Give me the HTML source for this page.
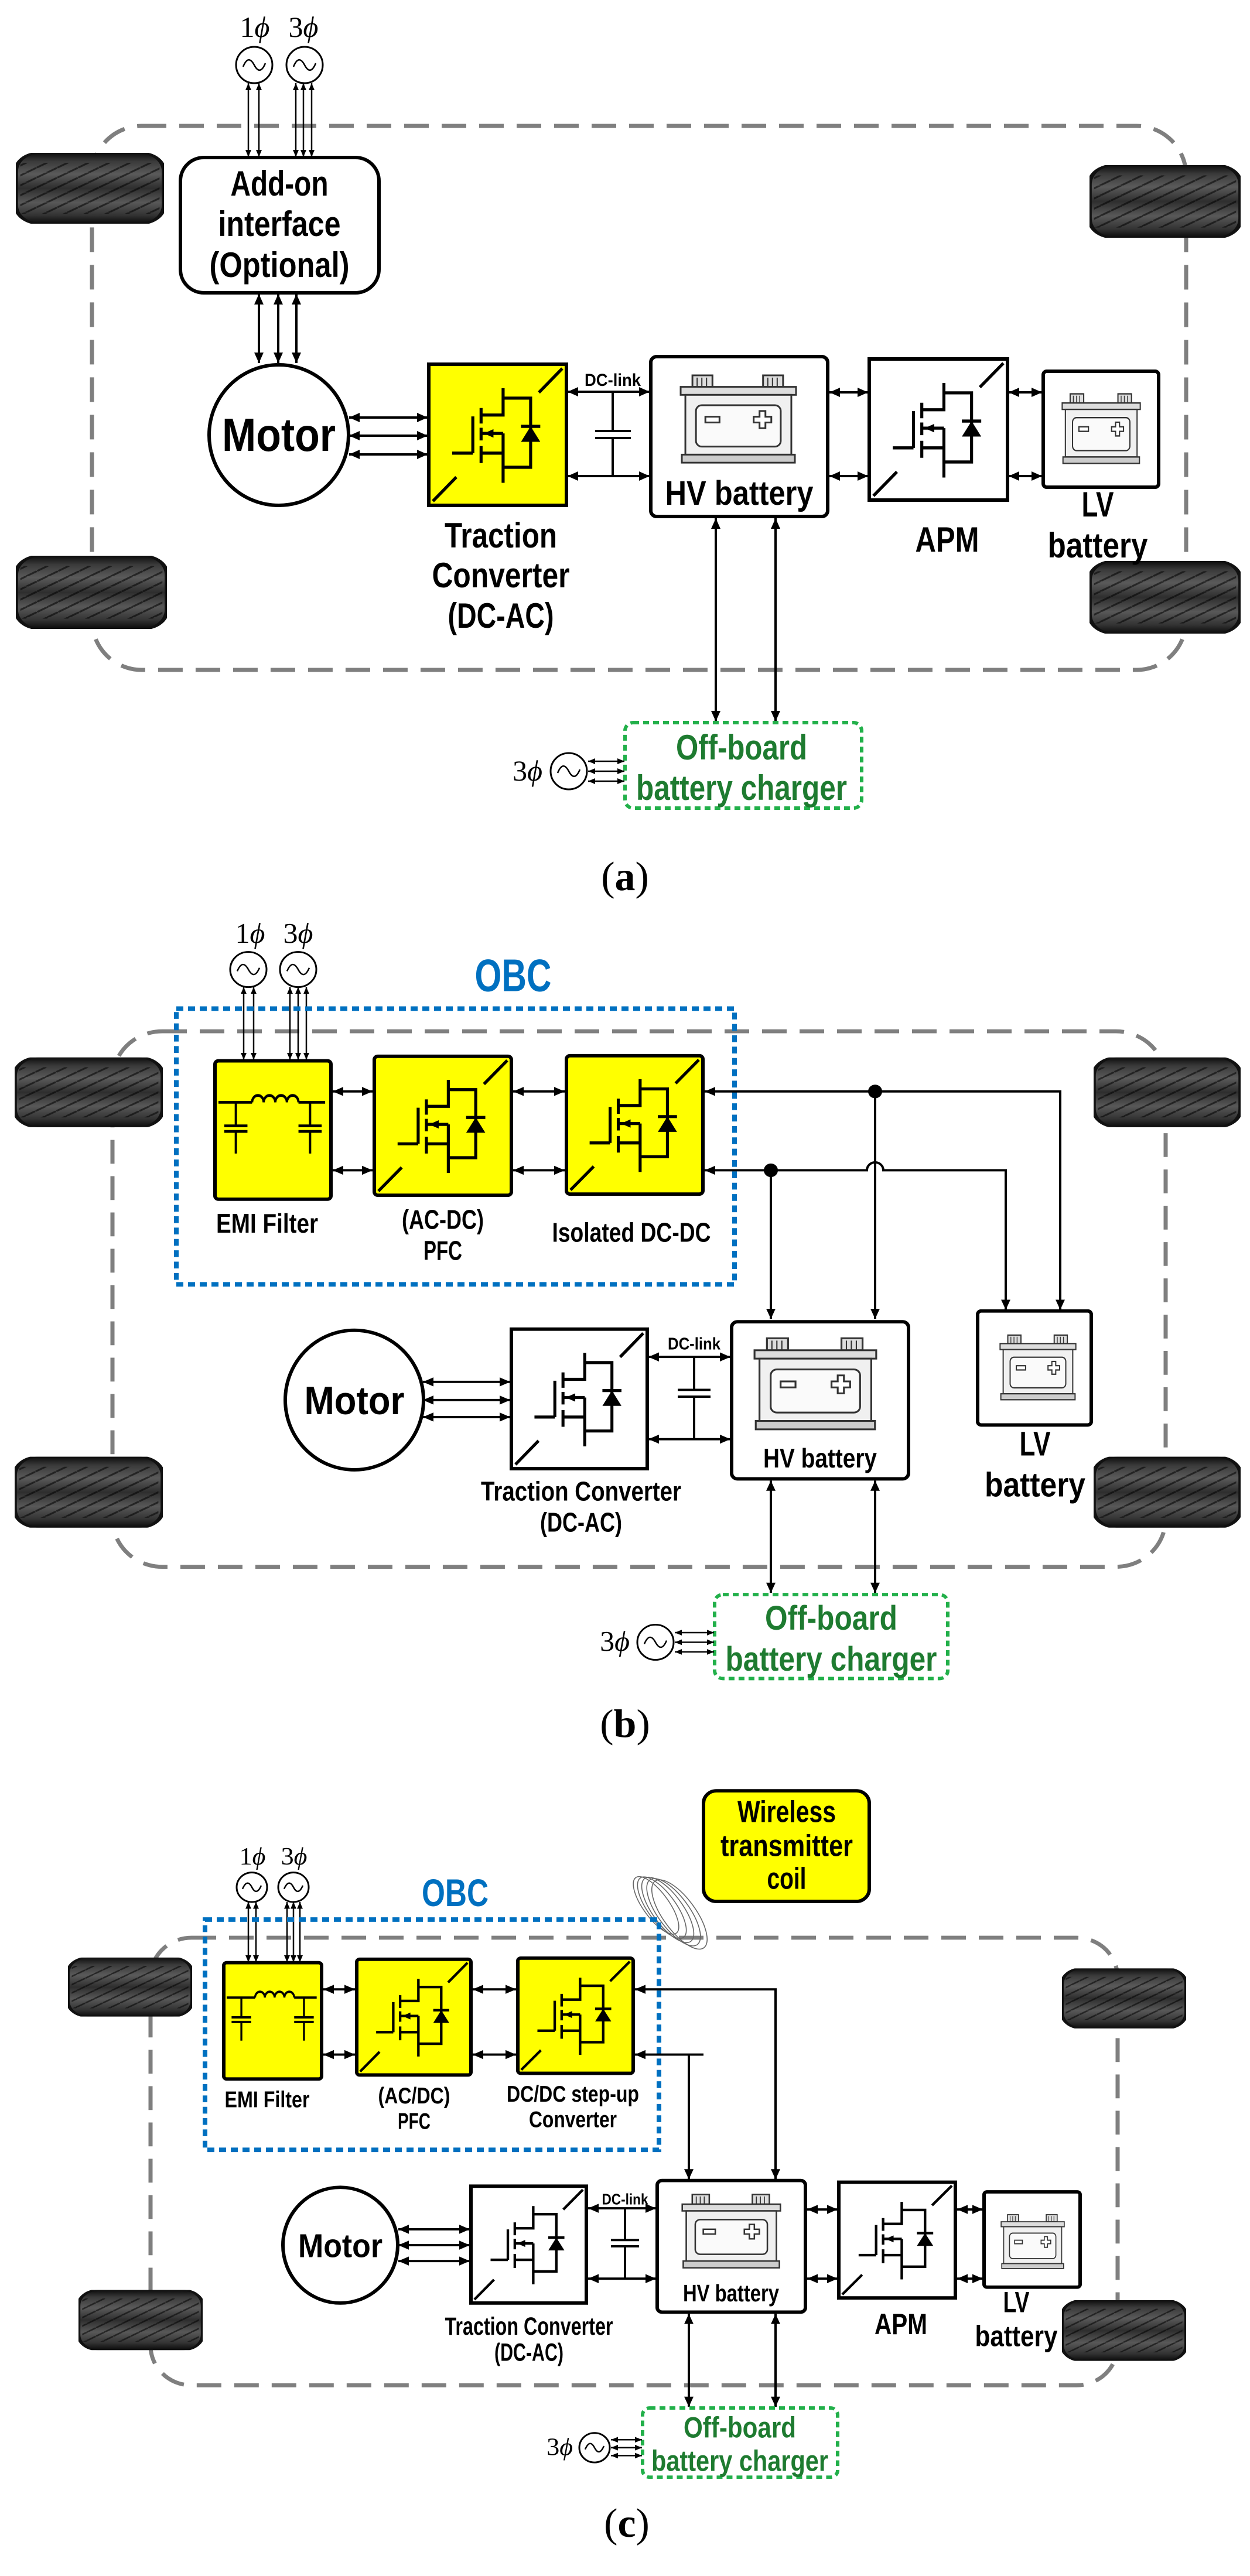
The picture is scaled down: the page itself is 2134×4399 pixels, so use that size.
<!DOCTYPE html>
<html><head><meta charset="utf-8"><style>
html,body{margin:0;padding:0;background:#fff}
svg{display:block}
.t{font-family:"Liberation Sans Narrow","Liberation Sans",sans-serif;font-weight:bold;text-anchor:middle;fill:#000}
.s{font-family:"Liberation Serif",serif;fill:#000}
.g{fill:#1e7b30}
.b{fill:#0070c0}
.ln{stroke:#000;stroke-width:4;fill:none}
.th{stroke:#000;stroke-width:2.5;fill:none}
.bx{stroke:#000;stroke-width:6;fill:#fff}
.yb{stroke:#000;stroke-width:6;fill:#ffff00}
.car{stroke:#7f7f7f;stroke-width:7;fill:none;stroke-dasharray:42 22}
.off{stroke:#22b04a;stroke-width:6;fill:#fff;stroke-dasharray:10 7}
.obc{stroke:#0070c0;stroke-width:8;fill:none;stroke-dasharray:12 8}
</style></head><body>
<svg width="2134" height="4399" viewBox="0 0 2134 4399" xmlns="http://www.w3.org/2000/svg">
<defs>
<marker id="ah" markerUnits="userSpaceOnUse" markerWidth="18" markerHeight="16" viewBox="0 0 18 16" refX="18" refY="8" orient="auto-start-reverse"><path d="M0,0 L18,8 L0,16 z" fill="#000"/></marker>
<marker id="as" markerUnits="userSpaceOnUse" markerWidth="12" markerHeight="10" viewBox="0 0 12 10" refX="12" refY="5" orient="auto-start-reverse"><path d="M0,0 L12,5 L0,10 z" fill="#000"/></marker>
<linearGradient id="tg" x1="0" y1="0" x2="0" y2="1">
<stop offset="0" stop-color="#0c0c0c"/><stop offset="0.12" stop-color="#3a3a3a"/><stop offset="0.3" stop-color="#5a5a5a"/><stop offset="0.5" stop-color="#2e2e2e"/><stop offset="0.7" stop-color="#585858"/><stop offset="0.88" stop-color="#333"/><stop offset="1" stop-color="#0a0a0a"/></linearGradient>
<pattern id="tp" width="14" height="14" patternUnits="userSpaceOnUse"><path d="M0,7 L7,0 M7,14 L14,7" stroke="#000" stroke-width="2" opacity="0.55"/></pattern>
<symbol id="tire" viewBox="0 0 100 100" preserveAspectRatio="none">
<rect x="0" y="0" width="100" height="100" rx="16" ry="26" fill="url(#tg)"/>
<rect x="3" y="14" width="94" height="72" fill="url(#tp)"/>
<rect x="0" y="0" width="100" height="100" rx="16" ry="26" fill="none" stroke="#111" stroke-width="3"/>
</symbol>
<symbol id="sw" viewBox="0 0 100 100" preserveAspectRatio="none">
<g stroke="#000" stroke-width="2.2" fill="none">
<path d="M97,3 L80,20 M20,80 L3,97"/>
<path d="M32,37 V63 M17,63 H32"/>
<path d="M38,31 V42 M38,45 V54 M38,58 V70"/>
<path d="M38,36 H54 V17 M38,49 H54 M38,63 H54 V84 M54,49 V63"/>
<path d="M54,24 H74 V73 H54"/>
<path d="M67,44 H81"/>
</g>
<polygon points="67,55 81,55 74,44" fill="#000"/>
<polygon points="40,49 47,46 47,52" fill="#000"/>
</symbol>
<symbol id="emi" viewBox="0 0 100 100" preserveAspectRatio="none">
<g stroke="#000" stroke-width="2" fill="none">
<path d="M3,30 H32 M72,30 H95"/>
<path d="M32,30 a5,5 0 0 1 10,0 a5,5 0 0 1 10,0 a5,5 0 0 1 10,0 a5,5 0 0 1 10,0"/>
<path d="M18,30 V47 M8,47 H28 M8,51 H28 M18,51 V67"/>
<path d="M82,30 V47 M72,47 H92 M72,51 H92 M82,51 V67"/>
</g>
</symbol>
<symbol id="bat" viewBox="0 0 200 160" preserveAspectRatio="none">
<g stroke="#333" stroke-width="3">
<rect x="22" y="2" width="34" height="20" fill="#ddd"/>
<rect x="142" y="2" width="34" height="20" fill="#ddd"/>
<path d="M30,6 V22 M38,6 V22 M46,6 V22 M150,6 V22 M158,6 V22 M166,6 V22" stroke-width="2"/>
<rect x="2" y="22" width="196" height="14" fill="#ddd"/>
<rect x="10" y="36" width="180" height="104" fill="#f0f0f0"/>
<rect x="4" y="140" width="192" height="14" fill="#ccc"/>
<rect x="28" y="54" width="144" height="72" rx="10" fill="#fafafa"/>
<rect x="44" y="74" width="24" height="10" fill="#fff"/>
<path d="M136,64 h10 v10 h10 v10 h-10 v10 h-10 v-10 h-10 v-10 h10 z" fill="#fff"/>
</g>
</symbol>
</defs>
<rect width="2134" height="4399" fill="#fff"/>

<!-- ================= PANEL A ================= -->
<rect class="car" x="157" y="215" width="1868" height="929" rx="85"/>
<use href="#tire" x="27" y="261" width="253" height="121"/>
<use href="#tire" x="27" y="949" width="258" height="125"/>
<use href="#tire" x="1860" y="282" width="258" height="124"/>
<use href="#tire" x="1860" y="958" width="258" height="124"/>

<text class="s" x="435" y="63" font-size="50" text-anchor="middle">1<tspan font-style="italic">ϕ</tspan></text>
<text class="s" x="518" y="63" font-size="50" text-anchor="middle">3<tspan font-style="italic">ϕ</tspan></text>
<circle cx="434" cy="111" r="31" fill="#fff" stroke="#000" stroke-width="3"/>
<circle cx="520" cy="111" r="31" fill="#fff" stroke="#000" stroke-width="3"/>
<path d="M415,114 q9,-22 19,-3 q10,19 19,-3" class="th"/>
<path d="M501,114 q9,-22 19,-3 q10,19 19,-3" class="th"/>
<g class="th" marker-start="url(#as)" marker-end="url(#as)">
<line x1="424" y1="142" x2="424" y2="268"/><line x1="442" y1="142" x2="442" y2="268"/>
<line x1="505" y1="142" x2="505" y2="268"/><line x1="518" y1="142" x2="518" y2="268"/><line x1="532" y1="142" x2="532" y2="268"/>
</g>
<rect class="bx" x="308" y="269" width="339" height="231" rx="40"/>
<text class="t" x="477" y="334" font-size="60" textLength="167" lengthAdjust="spacingAndGlyphs">Add-on</text>
<text class="t" x="477" y="403" font-size="60" textLength="209" lengthAdjust="spacingAndGlyphs">interface</text>
<text class="t" x="477" y="473" font-size="60" textLength="239" lengthAdjust="spacingAndGlyphs">(Optional)</text>
<g class="ln" marker-start="url(#ah)" marker-end="url(#ah)">
<line x1="442" y1="502" x2="442" y2="620"/><line x1="475" y1="502" x2="475" y2="620"/><line x1="506" y1="502" x2="506" y2="620"/>
<line x1="596" y1="713" x2="730" y2="713"/><line x1="596" y1="744" x2="730" y2="744"/><line x1="596" y1="776" x2="730" y2="776"/>
<line x1="969" y1="669" x2="1109" y2="669"/><line x1="969" y1="813" x2="1109" y2="813"/>
<line x1="1416" y1="670" x2="1482" y2="670"/><line x1="1416" y1="813" x2="1482" y2="813"/>
<line x1="1722" y1="670" x2="1779" y2="670"/><line x1="1722" y1="813" x2="1779" y2="813"/>
<line x1="1222" y1="885" x2="1222" y2="1232"/><line x1="1324" y1="885" x2="1324" y2="1232"/>
</g>
<ellipse cx="476" cy="743" rx="119" ry="120" fill="#fff" stroke="#000" stroke-width="6"/>
<text class="t" x="476" y="770" font-size="80" textLength="194" lengthAdjust="spacingAndGlyphs">Motor</text>
<rect class="yb" x="732" y="622" width="235" height="241"/>
<use href="#sw" x="732" y="622" width="235" height="241"/>
<path class="ln" d="M1046,669 V736 M1016,736 H1077 M1016,748 H1077 M1046,748 V813"/>
<text class="t" x="1046" y="659" font-size="30" textLength="96" lengthAdjust="spacingAndGlyphs">DC-link</text>
<rect class="bx" x="1111" y="609" width="302" height="273" rx="10"/>
<use href="#bat" x="1160" y="639" width="201" height="157"/>
<text class="t" x="1262" y="862" font-size="58" textLength="253" lengthAdjust="spacingAndGlyphs">HV battery</text>
<rect class="bx" x="1484" y="613" width="236" height="241"/>
<use href="#sw" x="1484" y="613" width="236" height="241"/>
<rect class="bx" x="1781" y="634" width="197" height="198" rx="6"/>
<use href="#bat" x="1812" y="671" width="136" height="125"/>
<text class="t" x="855" y="935" font-size="60" textLength="192" lengthAdjust="spacingAndGlyphs">Traction</text>
<text class="t" x="855" y="1003" font-size="60" textLength="235" lengthAdjust="spacingAndGlyphs">Converter</text>
<text class="t" x="855" y="1072" font-size="60" textLength="181" lengthAdjust="spacingAndGlyphs">(DC-AC)</text>
<text class="t" x="1617" y="942" font-size="60" textLength="109" lengthAdjust="spacingAndGlyphs">APM</text>
<text class="t" x="1874" y="882" font-size="60" textLength="55" lengthAdjust="spacingAndGlyphs">LV</text>
<text class="t" x="1874" y="952" font-size="60" textLength="171" lengthAdjust="spacingAndGlyphs">battery</text>
<rect class="off" x="1067" y="1234" width="404" height="146" rx="14"/>
<text class="t g" x="1266" y="1297" font-size="60" textLength="224" lengthAdjust="spacingAndGlyphs">Off-board</text>
<text class="t g" x="1266" y="1366" font-size="60" textLength="360" lengthAdjust="spacingAndGlyphs">battery charger</text>
<text class="s" x="926" y="1333" font-size="50" text-anchor="end">3<tspan font-style="italic">ϕ</tspan></text>
<circle cx="971" cy="1317" r="31" fill="#fff" stroke="#000" stroke-width="3"/>
<path d="M952,1320 q9,-22 19,-3 q10,19 19,-3" class="th"/>
<g class="th" marker-start="url(#as)" marker-end="url(#as)">
<line x1="1004" y1="1300" x2="1066" y2="1300"/><line x1="1004" y1="1317" x2="1066" y2="1317"/><line x1="1004" y1="1334" x2="1066" y2="1334"/>
</g>
<text class="s" x="1067" y="1520" font-size="70" text-anchor="middle">(<tspan font-weight="bold">a</tspan>)</text>

<!-- ================= PANEL B ================= -->
<g transform="matrix(1,0,0,0.9687,0,48.5)">
<rect class="car" x="192" y="1768" width="1798" height="944" rx="85"/>
<use href="#tire" x="25" y="1814" width="253" height="123"/>
<use href="#tire" x="25" y="2518" width="253" height="125"/>
<use href="#tire" x="1867" y="1814" width="251" height="123"/>
<use href="#tire" x="1867" y="2518" width="251" height="125"/>
<text class="s" x="427" y="1612" font-size="50" text-anchor="middle">1<tspan font-style="italic">ϕ</tspan></text>
<text class="s" x="509" y="1612" font-size="50" text-anchor="middle">3<tspan font-style="italic">ϕ</tspan></text>
<circle cx="424" cy="1659" r="31" fill="#fff" stroke="#000" stroke-width="3"/>
<circle cx="509" cy="1659" r="31" fill="#fff" stroke="#000" stroke-width="3"/>
<path d="M405,1662 q9,-22 19,-3 q10,19 19,-3" class="th"/>
<path d="M490,1662 q9,-22 19,-3 q10,19 19,-3" class="th"/>
<g class="th" marker-start="url(#as)" marker-end="url(#as)">
<line x1="416" y1="1690" x2="416" y2="1818"/><line x1="433" y1="1690" x2="433" y2="1818"/>
<line x1="495" y1="1690" x2="495" y2="1818"/><line x1="509" y1="1690" x2="509" y2="1818"/><line x1="523" y1="1690" x2="523" y2="1818"/>
</g>
<text class="t b" x="876" y="1697" font-size="80" textLength="131" lengthAdjust="spacingAndGlyphs">OBC</text>
<rect class="obc" x="301" y="1728" width="953" height="486"/>
<rect class="yb" x="367" y="1820" width="198" height="244" rx="6"/>
<use href="#emi" x="367" y="1820" width="198" height="244"/>
<rect class="yb" x="639" y="1812" width="234" height="245" rx="6"/>
<use href="#sw" x="639" y="1812" width="234" height="245"/>
<rect class="yb" x="967" y="1811" width="233" height="244" rx="6"/>
<use href="#sw" x="967" y="1811" width="233" height="244"/>
<g class="ln" marker-start="url(#ah)" marker-end="url(#ah)">
<line x1="568" y1="1874" x2="636" y2="1874"/><line x1="568" y1="2013" x2="636" y2="2013"/>
<line x1="876" y1="1874" x2="964" y2="1874"/><line x1="876" y1="2013" x2="964" y2="2013"/>
</g>
<path class="ln" d="M1203,1874 H1810 V2259" marker-start="url(#ah)" marker-end="url(#ah)"/>
<path class="ln" d="M1203,2013 H1480 A14,14 0 0 1 1508,2013 H1717 V2259" marker-start="url(#ah)" marker-end="url(#ah)"/>
<path class="ln" d="M1494,1874 V2275" marker-end="url(#ah)"/>
<path class="ln" d="M1316,2013 V2275" marker-end="url(#ah)"/>
<circle cx="1494" cy="1874" r="12" fill="#000"/>
<circle cx="1316" cy="2013" r="12" fill="#000"/>
<text class="t" x="456" y="2123" font-size="48" textLength="174" lengthAdjust="spacingAndGlyphs">EMI Filter</text>
<text class="t" x="756" y="2116" font-size="48" textLength="140" lengthAdjust="spacingAndGlyphs">(AC-DC)</text>
<text class="t" x="756" y="2171" font-size="48" textLength="66" lengthAdjust="spacingAndGlyphs">PFC</text>
<text class="t" x="1078" y="2139" font-size="48" textLength="271" lengthAdjust="spacingAndGlyphs">Isolated DC-DC</text>
<g class="ln" marker-start="url(#ah)" marker-end="url(#ah)">
<line x1="722" y1="2386" x2="871" y2="2386"/><line x1="722" y1="2418" x2="871" y2="2418"/><line x1="722" y1="2448" x2="871" y2="2448"/>
<line x1="1107" y1="2342" x2="1247" y2="2342"/><line x1="1107" y1="2487" x2="1247" y2="2487"/>
<line x1="1316" y1="2560" x2="1316" y2="2758"/><line x1="1494" y1="2560" x2="1494" y2="2758"/>
</g>
<ellipse cx="605" cy="2418" rx="118" ry="123" fill="#fff" stroke="#000" stroke-width="6"/>
<text class="t" x="605" y="2443" font-size="70" textLength="171" lengthAdjust="spacingAndGlyphs">Motor</text>
<rect class="bx" x="873" y="2293" width="232" height="246"/>
<use href="#sw" x="873" y="2293" width="232" height="246"/>
<path class="ln" d="M1185,2342 V2400 M1157,2400 H1213 M1157,2412 H1213 M1185,2412 V2487"/>
<text class="t" x="1185" y="2329" font-size="30" textLength="90" lengthAdjust="spacingAndGlyphs">DC-link</text>
<rect class="bx" x="1249" y="2280" width="302" height="277" rx="10"/>
<use href="#bat" x="1286" y="2307" width="212" height="169"/>
<text class="t" x="1400" y="2537" font-size="48" textLength="194" lengthAdjust="spacingAndGlyphs">HV battery</text>
<rect class="bx" x="1669" y="2261" width="194" height="201" rx="6"/>
<use href="#bat" x="1706" y="2302" width="132" height="120"/>
<text class="t" x="1767" y="2516" font-size="60" textLength="53" lengthAdjust="spacingAndGlyphs">LV</text>
<text class="t" x="1767" y="2588" font-size="60" textLength="172" lengthAdjust="spacingAndGlyphs">battery</text>
<text class="t" x="992" y="2595" font-size="48" textLength="342" lengthAdjust="spacingAndGlyphs">Traction Converter</text>
<text class="t" x="992" y="2650" font-size="48" textLength="140" lengthAdjust="spacingAndGlyphs">(DC-AC)</text>
<rect class="off" x="1220" y="2761" width="398" height="148" rx="14"/>
<text class="t g" x="1419" y="2823" font-size="60" textLength="226" lengthAdjust="spacingAndGlyphs">Off-board</text>
<text class="t g" x="1419" y="2895" font-size="60" textLength="361" lengthAdjust="spacingAndGlyphs">battery charger</text>
<text class="s" x="1075" y="2860" font-size="50" text-anchor="end">3<tspan font-style="italic">ϕ</tspan></text>
<circle cx="1119" cy="2845" r="31" fill="#fff" stroke="#000" stroke-width="3"/>
<path d="M1100,2848 q9,-22 19,-3 q10,19 19,-3" class="th"/>
<g class="th" marker-start="url(#as)" marker-end="url(#as)">
<line x1="1152" y1="2828" x2="1219" y2="2828"/><line x1="1152" y1="2845" x2="1219" y2="2845"/><line x1="1152" y1="2862" x2="1219" y2="2862"/>
</g>
<text class="s" x="1067" y="3012" font-size="70" text-anchor="middle">(<tspan font-weight="bold">b</tspan>)</text>
</g>

<!-- ================= PANEL C ================= -->
<g transform="matrix(1,0,0,0.9687,0,93.9)">
<rect class="car" x="257" y="3319" width="1651" height="789" rx="70"/>
<use href="#tire" x="116" y="3354" width="212" height="104"/>
<use href="#tire" x="134" y="3940" width="212" height="106"/>
<use href="#tire" x="1813" y="3373" width="212" height="106"/>
<use href="#tire" x="1813" y="3958" width="212" height="107"/>
<g fill="none" stroke="#666" stroke-width="1.6">
<ellipse cx="1120" cy="3262" rx="22" ry="60" transform="rotate(-35 1120 3262)"/>
<ellipse cx="1130" cy="3266" rx="24" ry="64" transform="rotate(-35 1130 3266)"/>
<ellipse cx="1140" cy="3270" rx="26" ry="68" transform="rotate(-35 1140 3270)"/>
<ellipse cx="1150" cy="3274" rx="27" ry="70" transform="rotate(-35 1150 3274)"/>
<ellipse cx="1160" cy="3278" rx="28" ry="72" transform="rotate(-35 1160 3278)"/>
</g>
<rect x="1201" y="3060" width="283" height="195" rx="22" fill="#ffff00" stroke="#000" stroke-width="6"/>
<text class="t" x="1343" y="3115" font-size="54" textLength="168" lengthAdjust="spacingAndGlyphs">Wireless</text>
<text class="t" x="1343" y="3175" font-size="54" textLength="226" lengthAdjust="spacingAndGlyphs">transmitter</text>
<text class="t" x="1343" y="3233" font-size="54" textLength="67" lengthAdjust="spacingAndGlyphs">coil</text>
<text class="s" x="431" y="3190" font-size="44" text-anchor="middle">1<tspan font-style="italic">ϕ</tspan></text>
<text class="s" x="502" y="3190" font-size="44" text-anchor="middle">3<tspan font-style="italic">ϕ</tspan></text>
<circle cx="430" cy="3230" r="26" fill="#fff" stroke="#000" stroke-width="3"/>
<circle cx="501" cy="3230" r="26" fill="#fff" stroke="#000" stroke-width="3"/>
<path d="M414,3233 q8,-19 16,-3 q8,16 16,-3" class="th"/>
<path d="M485,3233 q8,-19 16,-3 q8,16 16,-3" class="th"/>
<g class="th" marker-start="url(#as)" marker-end="url(#as)">
<line x1="424" y1="3256" x2="424" y2="3362"/><line x1="437" y1="3256" x2="437" y2="3362"/>
<line x1="490" y1="3256" x2="490" y2="3362"/><line x1="501" y1="3256" x2="501" y2="3362"/><line x1="512" y1="3256" x2="512" y2="3362"/>
</g>
<text class="t b" x="777" y="3263" font-size="68" textLength="114" lengthAdjust="spacingAndGlyphs">OBC</text>
<rect class="obc" x="350" y="3287" width="775" height="406"/>
<rect class="yb" x="382" y="3363" width="167" height="205" rx="5"/>
<use href="#emi" x="382" y="3363" width="167" height="205"/>
<rect class="yb" x="609" y="3357" width="195" height="204" rx="5"/>
<use href="#sw" x="609" y="3357" width="195" height="204"/>
<rect class="yb" x="884" y="3355" width="197" height="203" rx="5"/>
<use href="#sw" x="884" y="3355" width="197" height="203"/>
<g class="ln" marker-start="url(#ah)" marker-end="url(#ah)">
<line x1="552" y1="3410" x2="606" y2="3410"/><line x1="552" y1="3525" x2="606" y2="3525"/>
<line x1="807" y1="3410" x2="881" y2="3410"/><line x1="807" y1="3525" x2="881" y2="3525"/>
</g>
<path class="ln" d="M1084,3410 H1324 V3745" marker-start="url(#ah)" marker-end="url(#ah)"/>
<path class="ln" d="M1084,3525 H1201" marker-start="url(#ah)"/>
<path class="ln" d="M1176,3525 V3745" marker-end="url(#ah)"/>
<text class="t" x="456" y="3618" font-size="40" textLength="145" lengthAdjust="spacingAndGlyphs">EMI Filter</text>
<text class="t" x="707" y="3611" font-size="40" textLength="123" lengthAdjust="spacingAndGlyphs">(AC/DC)</text>
<text class="t" x="707" y="3656" font-size="40" textLength="56" lengthAdjust="spacingAndGlyphs">PFC</text>
<text class="t" x="978" y="3608" font-size="40" textLength="226" lengthAdjust="spacingAndGlyphs">DC/DC step-up</text>
<text class="t" x="978" y="3653" font-size="40" textLength="150" lengthAdjust="spacingAndGlyphs">Converter</text>
<g class="ln" marker-start="url(#ah)" marker-end="url(#ah)">
<line x1="680" y1="3833" x2="802" y2="3833"/><line x1="680" y1="3861" x2="802" y2="3861"/><line x1="680" y1="3889" x2="802" y2="3889"/>
<line x1="1004" y1="3796" x2="1120" y2="3796"/><line x1="1004" y1="3920" x2="1120" y2="3920"/>
<line x1="1378" y1="3798" x2="1430" y2="3798"/><line x1="1378" y1="3920" x2="1430" y2="3920"/>
<line x1="1634" y1="3798" x2="1678" y2="3798"/><line x1="1634" y1="3920" x2="1678" y2="3920"/>
<line x1="1176" y1="3982" x2="1176" y2="4146"/><line x1="1324" y1="3982" x2="1324" y2="4146"/>
</g>
<ellipse cx="581" cy="3861" rx="98" ry="102" fill="#fff" stroke="#000" stroke-width="6"/>
<text class="t" x="581" y="3882" font-size="58" textLength="144" lengthAdjust="spacingAndGlyphs">Motor</text>
<rect class="bx" x="804" y="3757" width="197" height="206"/>
<use href="#sw" x="804" y="3757" width="197" height="206"/>
<path class="ln" d="M1067,3796 V3852 M1043,3852 H1091 M1043,3863 H1091 M1067,3863 V3920"/>
<text class="t" x="1067" y="3789" font-size="27" textLength="79" lengthAdjust="spacingAndGlyphs">DC-link</text>
<rect class="bx" x="1122" y="3747" width="253" height="232" rx="8"/>
<use href="#bat" x="1163" y="3770" width="171" height="136"/>
<text class="t" x="1248" y="3960" font-size="42" textLength="164" lengthAdjust="spacingAndGlyphs">HV battery</text>
<rect class="bx" x="1432" y="3750" width="199" height="204"/>
<use href="#sw" x="1432" y="3750" width="199" height="204"/>
<rect class="bx" x="1680" y="3767" width="164" height="168" rx="5"/>
<use href="#bat" x="1708" y="3806" width="110" height="100"/>
<text class="t" x="903" y="4019" font-size="44" textLength="287" lengthAdjust="spacingAndGlyphs">Traction Converter</text>
<text class="t" x="903" y="4065" font-size="44" textLength="118" lengthAdjust="spacingAndGlyphs">(DC-AC)</text>
<text class="t" x="1538" y="4018" font-size="52" textLength="90" lengthAdjust="spacingAndGlyphs">APM</text>
<text class="t" x="1735" y="3979" font-size="52" textLength="45" lengthAdjust="spacingAndGlyphs">LV</text>
<text class="t" x="1735" y="4039" font-size="52" textLength="141" lengthAdjust="spacingAndGlyphs">battery</text>
<rect class="off" x="1097" y="4148" width="333" height="122" rx="12"/>
<text class="t g" x="1263" y="4200" font-size="52" textLength="192" lengthAdjust="spacingAndGlyphs">Off-board</text>
<text class="t g" x="1263" y="4259" font-size="52" textLength="302" lengthAdjust="spacingAndGlyphs">battery charger</text>
<text class="s" x="978" y="4231" font-size="44" text-anchor="end">3<tspan font-style="italic">ϕ</tspan></text>
<circle cx="1015" cy="4218" r="26" fill="#fff" stroke="#000" stroke-width="3"/>
<path d="M999,4221 q8,-19 16,-3 q8,16 16,-3" class="th"/>
<g class="th" marker-start="url(#as)" marker-end="url(#as)">
<line x1="1043" y1="4204" x2="1096" y2="4204"/><line x1="1043" y1="4218" x2="1096" y2="4218"/><line x1="1043" y1="4232" x2="1096" y2="4232"/>
</g>
</g>
<text class="s" x="1070" y="4332" font-size="70" text-anchor="middle">(<tspan font-weight="bold">c</tspan>)</text>
</svg>
</body></html>
